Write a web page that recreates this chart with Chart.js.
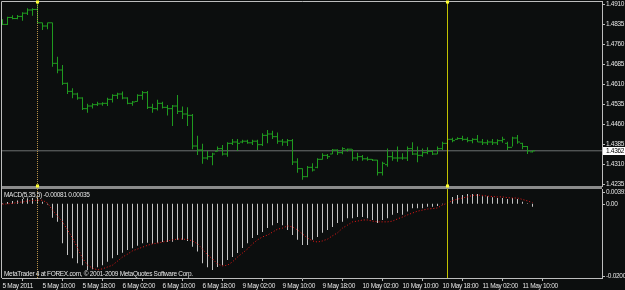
<!DOCTYPE html>
<html lang="en">
<head>
<meta charset="UTF-8">
<title>EURUSD H1 - MACD</title>
<script src="https://cdn.jsdelivr.net/npm/chart.js@4.4.0/dist/chart.umd.min.js"></script>
<style>
  body { margin: 0; background: #0c0e0e; }
  #wrap { position: relative; width: 625px; height: 290px; overflow: hidden; background: #0c0e0e; }
  canvas { position: absolute; left: 0; }
  #price { top: 0; }
  #macd { top: 186px; }
</style>
</head>
<body>
<div id="wrap">
  <canvas id="price" width="625" height="189"></canvas>
  <canvas id="macd" width="625" height="104"></canvas>
</div>
<script>
// time axis (bar index of each label)
const timeTicks = [0, 8, 16, 24, 32, 40, 48, 56, 64, 72, 80, 88, 96, 104];
const timeLabels = ['5 May 2011', '5 May 10:00', '5 May 18:00', '6 May 02:00', '6 May 10:00', '6 May 18:00',
  '9 May 02:00', '9 May 10:00', '9 May 18:00', '10 May 02:00', '10 May 10:00', '10 May 18:00',
  '11 May 02:00', '11 May 10:00'];

// H1 bars
const opens = [1.4840, 1.4836, 1.4862, 1.4858, 1.4866, 1.4878, 1.4890, 1.4892, 1.4842, 1.4830,
  1.4842, 1.4690, 1.4665, 1.4615, 1.4585, 1.4575, 1.4560, 1.4520, 1.4530, 1.4535,
  1.4538, 1.4540, 1.4555, 1.4570, 1.4575, 1.4560, 1.4540, 1.4547, 1.4570, 1.4580,
  1.4525, 1.4520, 1.4540, 1.4525, 1.4520, 1.4530, 1.4510, 1.4500, 1.4495, 1.4380,
  1.4365, 1.4335, 1.4340, 1.4360, 1.4370, 1.4350, 1.4390, 1.4395, 1.4395, 1.4398,
  1.4392, 1.4398, 1.4385, 1.4420, 1.4425, 1.4415, 1.4398, 1.4395, 1.4400, 1.4320,
  1.4295, 1.4265, 1.4300, 1.4300, 1.4330, 1.4345, 1.4350, 1.4365, 1.4355, 1.4365,
  1.4368, 1.4335, 1.4340, 1.4332, 1.4330, 1.4327, 1.4280, 1.4310, 1.4340, 1.4335,
  1.4335, 1.4335, 1.4370, 1.4350, 1.4345, 1.4355, 1.4360, 1.4350, 1.4370, 1.4390,
  1.4405, 1.4405, 1.4408, 1.4405, 1.4400, 1.4405, 1.4395, 1.4392, 1.4395, 1.4392,
  1.4400, 1.4390, 1.4375, 1.4410, 1.4390, 1.4378, 1.4358];
const highs = [1.4855, 1.4865, 1.4870, 1.4871, 1.4882, 1.4897, 1.4897, 1.4913, 1.4843, 1.4843,
  1.4843, 1.4715, 1.4684, 1.4618, 1.4597, 1.4580, 1.4563, 1.4538, 1.4540, 1.4546,
  1.4544, 1.4561, 1.4574, 1.4580, 1.4584, 1.4563, 1.4549, 1.4574, 1.4586, 1.4586,
  1.4538, 1.4553, 1.4546, 1.4534, 1.4534, 1.4571, 1.4528, 1.4525, 1.4500, 1.4418,
  1.4388, 1.4361, 1.4355, 1.4378, 1.4384, 1.4394, 1.4406, 1.4406, 1.4403, 1.4403,
  1.4403, 1.4403, 1.4428, 1.4440, 1.4437, 1.4431, 1.4406, 1.4406, 1.4406, 1.4334,
  1.4297, 1.4305, 1.4315, 1.4334, 1.4353, 1.4350, 1.4369, 1.4368, 1.4375, 1.4371,
  1.4368, 1.4355, 1.4346, 1.4340, 1.4331, 1.4328, 1.4321, 1.4371, 1.4359, 1.4378,
  1.4353, 1.4378, 1.4394, 1.4378, 1.4371, 1.4375, 1.4365, 1.4378, 1.4396, 1.4413,
  1.4411, 1.4413, 1.4418, 1.4413, 1.4409, 1.4421, 1.4406, 1.4403, 1.4406, 1.4405,
  1.4415, 1.4396, 1.4415, 1.4421, 1.4392, 1.4380, 1.4363];
const lows = [1.4834, 1.4834, 1.4855, 1.4855, 1.4850, 1.4871, 1.4868, 1.4840, 1.4815, 1.4818,
  1.4677, 1.4653, 1.4609, 1.4575, 1.4559, 1.4553, 1.4515, 1.4505, 1.4521, 1.4530,
  1.4531, 1.4530, 1.4543, 1.4556, 1.4555, 1.4537, 1.4531, 1.4546, 1.4553, 1.4519,
  1.4505, 1.4513, 1.4521, 1.4494, 1.4455, 1.4500, 1.4481, 1.4455, 1.4368, 1.4346,
  1.4313, 1.4328, 1.4308, 1.4359, 1.4344, 1.4340, 1.4384, 1.4361, 1.4390, 1.4388,
  1.4384, 1.4365, 1.4380, 1.4390, 1.4406, 1.4388, 1.4381, 1.4380, 1.4309, 1.4280,
  1.4253, 1.4263, 1.4284, 1.4297, 1.4328, 1.4331, 1.4349, 1.4346, 1.4349, 1.4359,
  1.4325, 1.4325, 1.4325, 1.4325, 1.4324, 1.4269, 1.4269, 1.4302, 1.4325, 1.4321,
  1.4328, 1.4324, 1.4346, 1.4319, 1.4340, 1.4349, 1.4346, 1.4349, 1.4365, 1.4378,
  1.4394, 1.4403, 1.4400, 1.4394, 1.4390, 1.4394, 1.4384, 1.4384, 1.4384, 1.4384,
  1.4392, 1.4365, 1.4378, 1.4388, 1.4368, 1.4350, 1.4356];
const closes = [1.4836, 1.4862, 1.4858, 1.4866, 1.4878, 1.4890, 1.4892, 1.4842, 1.4830, 1.4842,
  1.4690, 1.4665, 1.4615, 1.4585, 1.4575, 1.4560, 1.4520, 1.4530, 1.4535, 1.4538,
  1.4540, 1.4555, 1.4570, 1.4575, 1.4560, 1.4540, 1.4545, 1.4570, 1.4580, 1.4525,
  1.4520, 1.4540, 1.4525, 1.4520, 1.4530, 1.4510, 1.4500, 1.4495, 1.4380, 1.4365,
  1.4335, 1.4340, 1.4350, 1.4370, 1.4350, 1.4390, 1.4395, 1.4390, 1.4398, 1.4392,
  1.4398, 1.4385, 1.4420, 1.4425, 1.4415, 1.4398, 1.4395, 1.4400, 1.4320, 1.4295,
  1.4265, 1.4300, 1.4290, 1.4330, 1.4345, 1.4340, 1.4365, 1.4355, 1.4370, 1.4368,
  1.4335, 1.4340, 1.4332, 1.4330, 1.4327, 1.4280, 1.4315, 1.4340, 1.4335, 1.4335,
  1.4335, 1.4370, 1.4350, 1.4345, 1.4355, 1.4360, 1.4350, 1.4370, 1.4390, 1.4405,
  1.4400, 1.4408, 1.4405, 1.4400, 1.4405, 1.4395, 1.4392, 1.4395, 1.4392, 1.4400,
  1.4405, 1.4375, 1.4410, 1.4395, 1.4378, 1.4362, 1.4362];

// MACD(5,35,5): main (histogram) and signal
const macdMain = [0.0002, 0.0005, 0.0008, 0.0009, 0.0013, 0.0015, 0.0016, 0.0016, 0.0006, -0.0002,
  -0.0038, -0.0049, -0.0107, -0.0139, -0.0148, -0.0162, -0.0167, -0.0180, -0.0178, -0.0173,
  -0.0167, -0.0158, -0.0148, -0.0139, -0.0133, -0.0126, -0.0121, -0.0114, -0.0107, -0.0106,
  -0.0109, -0.0106, -0.0104, -0.0104, -0.0103, -0.0098, -0.0098, -0.0101, -0.0117, -0.0130,
  -0.0162, -0.0173, -0.0180, -0.0172, -0.0167, -0.0153, -0.0145, -0.0134, -0.0120, -0.0107,
  -0.0093, -0.0085, -0.0077, -0.0066, -0.0058, -0.0052, -0.0058, -0.0071, -0.0085, -0.0098,
  -0.0112, -0.0112, -0.0098, -0.0090, -0.0079, -0.0071, -0.0063, -0.0052, -0.0049, -0.0039,
  -0.0039, -0.0036, -0.0036, -0.0039, -0.0044, -0.0052, -0.0044, -0.0039, -0.0030, -0.0025,
  -0.0030, -0.0021, -0.0012, -0.0012, -0.0012, -0.0008, -0.0008, -0.0006, -0.0001, 0.0006,
  0.0019, 0.0024, 0.0024, 0.0027, 0.0027, 0.0027, 0.0021, 0.0021, 0.0018, 0.0016,
  0.0016, 0.0013, 0.0016, 0.0013, 0.0006, 0.0002, -0.00081];
const macdSignal = [-0.0001, 0.0000, 0.0001, 0.0004, 0.0005, 0.0008, 0.0009, 0.0010, 0.0010, 0.0002,
  -0.0017, -0.0033, -0.0049, -0.0071, -0.0093, -0.0120, -0.0148, -0.0167, -0.0175, -0.0180,
  -0.0177, -0.0172, -0.0167, -0.0156, -0.0145, -0.0137, -0.0128, -0.0123, -0.0118, -0.0113,
  -0.0109, -0.0107, -0.0104, -0.0101, -0.0098, -0.0096, -0.0096, -0.0097, -0.0101, -0.0109,
  -0.0123, -0.0139, -0.0150, -0.0164, -0.0169, -0.0167, -0.0158, -0.0145, -0.0134, -0.0123,
  -0.0109, -0.0098, -0.0090, -0.0085, -0.0077, -0.0069, -0.0066, -0.0060, -0.0063, -0.0071,
  -0.0082, -0.0093, -0.0101, -0.0104, -0.0101, -0.0096, -0.0087, -0.0079, -0.0066, -0.0058,
  -0.0049, -0.0047, -0.0044, -0.0044, -0.0047, -0.0049, -0.0049, -0.0049, -0.0047, -0.0041,
  -0.0036, -0.0030, -0.0025, -0.0020, -0.0017, -0.0014, -0.0013, -0.0011, -0.0003, 0.0002,
  0.0009, 0.0013, 0.0016, 0.0019, 0.0023, 0.0024, 0.0023, 0.0021, 0.0020, 0.0019,
  0.0019, 0.0017, 0.0016, 0.0016, 0.0012, 0.0008, 0.00035];

const priceTicks = [1.4910, 1.4835, 1.4760, 1.4685, 1.4610, 1.4535, 1.4460, 1.4385, 1.4310, 1.4235];
const macdTicks = [0.00391, 0, -0.02006];
const priceRange = [1.4230, 1.4920];
const macdRange = [-0.0202, 0.00405];
const xRange = [-0.1, 119.9];
const bid = 1.4362;
const orangeLineBar = 7;
const yellowLineBar = 89;

const FONT = '"Liberation Sans", Arial, sans-serif';
const FONT_SIZE = 6.5;
const GREEN = '#1f9a1f';
const BORDER = '#bdbdbd';
const TEXT = '#e4e4e4';

Chart.defaults.font.family = FONT;
Chart.defaults.font.size = FONT_SIZE;
Chart.defaults.color = TEXT;

const vline = (x, r) => [{x: x, y: r[0]}, {x: x, y: r[1]}];
const base = {
  responsive: false,
  animation: false,
  events: [],
  plugins: {legend: {display: false}, tooltip: {enabled: false}}
};
const noPad = (s) => { s.paddingTop = 0; s.paddingBottom = 0; s.paddingLeft = 0; s.paddingRight = 0; };
// MT4 uses a tight little bitmap font, squeeze the text a bit
const tightText = { id: 'tightText', beforeDraw(chart) { chart.ctx.letterSpacing = '-0.3px'; } };
const labelFont = FONT_SIZE + 'px ' + FONT;

// main window
new Chart(document.getElementById('price'), {
  type: 'bar',
  data: {
    datasets: [
      { type: 'line', showLine: false, clip: false, pointStyle: 'rect', pointRadius: 2.2,
        pointBackgroundColor: '#ffff33', pointBorderWidth: 0,
        data: [orangeLineBar, yellowLineBar].flatMap(b => vline(b, priceRange)) },
      { type: 'line', data: vline(yellowLineBar, priceRange), borderColor: '#c2c200', borderWidth: 1, pointRadius: 0 },
      { type: 'line', data: vline(orangeLineBar, priceRange), borderColor: '#b8924a', borderDash: [1, 1], borderWidth: 1, pointRadius: 0 },
      { type: 'line', showLine: false, pointStyle: 'line', pointRadius: 1, pointBorderColor: GREEN, pointBorderWidth: 1,
        data: opens.map((v, i) => ({x: i - 0.3, y: v})) },
      { type: 'line', showLine: false, pointStyle: 'line', pointRadius: 1, pointBorderColor: GREEN, pointBorderWidth: 1,
        data: closes.map((v, i) => ({x: i + 0.3, y: v})) },
      { type: 'bar', backgroundColor: GREEN, barThickness: 1, inflateAmount: 0, borderWidth: 0,
        data: highs.map((h, i) => ({x: i, y: [lows[i], h]})) },
      { type: 'line', data: [{x: xRange[0], y: bid}, {x: xRange[1], y: bid}], borderColor: '#6d7171', borderWidth: 1, pointRadius: 0 }
    ]
  },
  options: {
    ...base,
    layout: {autoPadding: false, padding: {left: 2, top: 2, right: 0, bottom: 3}},
    scales: {
      x: { type: 'linear', min: xRange[0], max: xRange[1], display: false, offset: false },
      y: {
        position: 'right', min: priceRange[0], max: priceRange[1],
        afterBuildTicks: s => { s.ticks = priceTicks.map(v => ({value: v})); },
        afterFit: s => { s.width = 23; noPad(s); },
        grid: { drawOnChartArea: false, drawTicks: true, tickLength: 3, color: BORDER },
        border: { display: true, color: BORDER },
        ticks: { padding: 1, color: TEXT, callback: v => v.toFixed(4) }
      }
    }
  },
  plugins: [tightText, {
    id: 'mainFrame',
    beforeDatasetsDraw(chart) {
      const {ctx, chartArea: a} = chart;
      ctx.save();
      ctx.strokeStyle = BORDER;
      ctx.lineWidth = 1;
      ctx.beginPath();
      ctx.moveTo(1.5, a.bottom + 3);
      ctx.lineTo(1.5, 1.5);
      ctx.lineTo(a.right + 1, 1.5);
      ctx.stroke();
      ctx.fillStyle = '#8b8b8b';
      ctx.fillRect(1, a.bottom, a.right - 1, 3);
      ctx.restore();
    },
    afterDraw(chart) {
      const {ctx, chartArea: a} = chart;
      const y = Math.round(chart.scales.y.getPixelForValue(bid));
      ctx.save();
      ctx.fillStyle = '#ffffff';
      ctx.fillRect(a.right + 1, y - 4, 22, 8);
      ctx.fillStyle = '#000000';
      ctx.font = labelFont;
      ctx.textBaseline = 'middle';
      ctx.fillText(bid.toFixed(4), a.right + 4, y);
      ctx.restore();
    }
  }]
});

// MACD sub-window
new Chart(document.getElementById('macd'), {
  type: 'bar',
  data: {
    datasets: [
      { type: 'line', data: vline(yellowLineBar, macdRange), borderColor: '#c2c200', borderWidth: 1, pointRadius: 0 },
      { type: 'line', data: vline(orangeLineBar, macdRange), borderColor: '#b8924a', borderDash: [1, 1], borderWidth: 1, pointRadius: 0 },
      { type: 'line', data: macdSignal.map((v, i) => ({x: i, y: v})), borderColor: '#f01818', borderDash: [1, 2],
        borderWidth: 1, pointRadius: 0, tension: 0 },
      { type: 'bar', backgroundColor: '#c4c4c4', barThickness: 1, inflateAmount: 0, borderWidth: 0,
        data: macdMain.map((v, i) => ({x: i, y: v})) }
    ]
  },
  options: {
    ...base,
    layout: {autoPadding: false, padding: {left: 2, top: 3, right: 0, bottom: 0}},
    scales: {
      x: {
        type: 'linear', min: xRange[0], max: xRange[1], offset: false,
        afterBuildTicks: s => { s.ticks = timeTicks.map(v => ({value: v})); },
        afterFit: s => { s.height = 12; noPad(s); },
        grid: { drawOnChartArea: false, drawTicks: true, tickLength: 3, color: BORDER },
        border: { display: true, color: BORDER },
        ticks: { align: 'start', padding: 1, maxRotation: 0, autoSkip: false, color: TEXT,
          callback: (v, k) => timeLabels[k] }
      },
      y: {
        position: 'right', min: macdRange[0], max: macdRange[1],
        afterFit: s => { s.width = 23; noPad(s); },
        grid: { display: false },
        border: { display: true, color: BORDER },
        ticks: { display: false }
      }
    }
  },
  plugins: [tightText, {
    id: 'macdFrame',
    afterDraw(chart) {
      const {ctx, chartArea: a} = chart;
      const ys = chart.scales.y;
      ctx.save();
      ctx.strokeStyle = BORDER;
      ctx.lineWidth = 1;
      ctx.beginPath();
      ctx.moveTo(1.5, 0);
      ctx.lineTo(1.5, a.bottom);
      ctx.stroke();
      ctx.font = labelFont;
      ctx.fillStyle = TEXT;
      ctx.textBaseline = 'middle';
      macdTicks.forEach(v => {
        let y = Math.min(Math.max(ys.getPixelForValue(v), a.top + 3), a.bottom - 2);
        y = Math.round(y) + 0.5;
        ctx.beginPath();
        ctx.moveTo(a.right, y);
        ctx.lineTo(a.right + 3, y);
        ctx.stroke();
        ctx.fillText(v === 0 ? '0.00' : v.toFixed(5), a.right + 4, y);
      });
      const last = macdMain.length - 1;
      ctx.fillText('MACD(5,35,5) ' + macdMain[last].toFixed(5) + ' ' + macdSignal[last].toFixed(5), 4, a.top + 6);
      ctx.fillText('MetaTrader 4 at FOREX.com, \u00a9 2001-2009 MetaQuotes Software Corp.', 4, a.bottom - 4);
      ctx.restore();
    }
  }]
});
</script>
</body>
</html>
